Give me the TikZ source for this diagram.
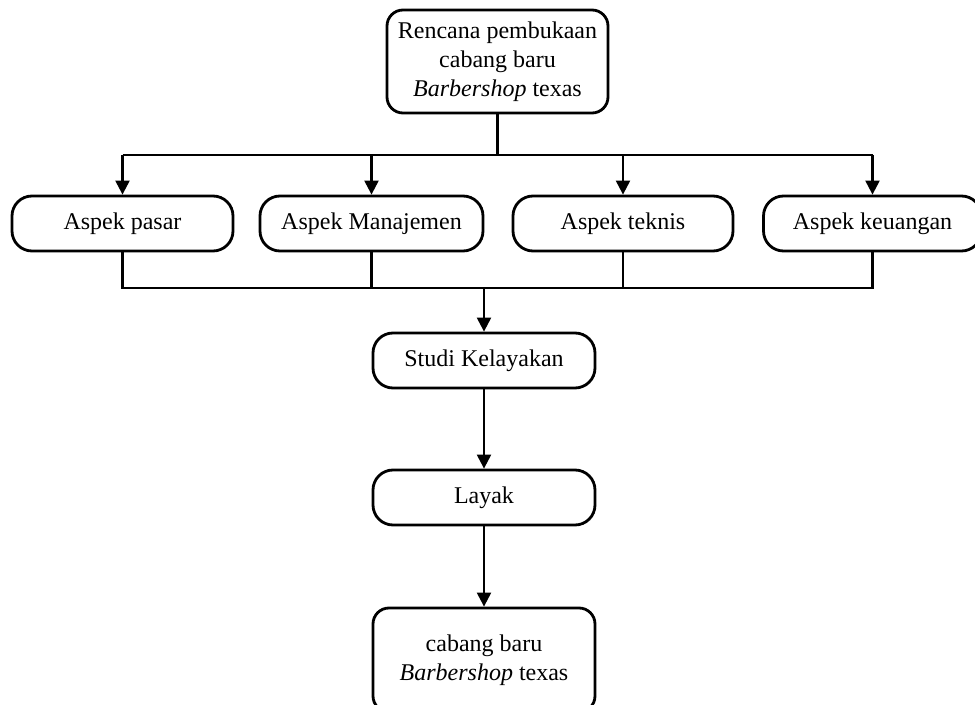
\documentclass[tikz,border=0pt]{standalone}
\usepackage{fontspec}
\setmainfont{Liberation Serif}
\usetikzlibrary{arrows.meta, positioning}
\tikzset{
  box/.style={rectangle, rounded corners=10pt, draw=black, line width=1.4pt,
              fill=white, align=center, inner sep=2pt,
              minimum width=110pt, minimum height=27.5pt, font=\fontsize{12}{14.5}\selectfont},
  bigbox/.style={box, rounded corners=8pt, minimum height=51.5pt},
  link/.style={line width=1.1pt, color=black},
  arrow/.style={link, -{Triangle[length=7pt, width=7pt]}},
}
\begin{document}
\begin{tikzpicture}[x=0.5pt, y=-0.5pt]
  \useasboundingbox (0,0) rectangle (975,705);
  \clip (0,0) rectangle (975,705);
  % nodes
  \node[bigbox, minimum width=110.5pt] (plan) at (497.5,61.5)
    {Rencana pembukaan\\cabang baru\\\textit{Barbershop} texas};
  \node[box, minimum width=110.5pt] (pasar) at (122.5,223.5) {Aspek pasar};
  \node[box, minimum width=111.5pt] (manaj) at (371.5,223.5) {Aspek Manajemen};
  \node[box, minimum width=110pt] (teknis) at (623,223.5) {Aspek teknis};
  \node[box, minimum width=109pt] (keuangan) at (872.5,223.5) {Aspek keuangan};
  \node[box, minimum width=111pt] (studi) at (484,360.5) {Studi Kelayakan};
  \node[box, minimum width=111pt] (layak) at (484,497.5) {Layak};
  \node[bigbox, minimum width=111pt, minimum height=52pt] (cabang) at (484,660)
    {cabang baru\\\textit{Barbershop} texas};
  \coordinate (split) at (497.5,155);
  \coordinate (join) at (484,288);
  % split to the four aspects
  \draw[link] (plan) -- (split);
  \draw[link] (pasar.north |- split) -- (keuangan.north |- split);
  \foreach \n in {pasar, manaj, teknis, keuangan}{
    \draw[arrow] (\n.north |- split) -- (\n.north);
  }
  % join of the aspects
  \draw[link] (pasar.south) -- (pasar.south |- join) -- (keuangan.south |- join) -- (keuangan.south);
  \draw[link] (manaj.south) -- (manaj.south |- join);
  \draw[link] (teknis.south) -- (teknis.south |- join);
  \draw[arrow] (join) -- (studi);
  \draw[arrow] (studi) -- (layak);
  \draw[arrow] (layak) -- (cabang);
\end{tikzpicture}
\end{document}
